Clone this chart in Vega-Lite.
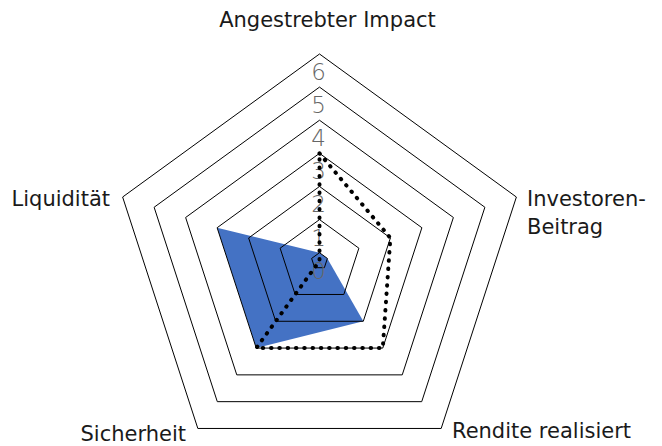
{
  "$schema": "https://vega.github.io/schema/vega-lite/v6.json",
  "width": 662,
  "height": 446,
  "autosize": {"type": "fit", "contains": "padding"},
  "padding": 0,
  "background": "white",
  "config": {"view": {"stroke": null}},
  "datasets": {
    "series": [
      {"axis": "Angestrebter Impact", "series": "A", "value": 0},
      {"axis": "Investoren-Beitrag", "series": "A", "value": 0},
      {"axis": "Rendite realisiert", "series": "A", "value": 2},
      {"axis": "Sicherheit", "series": "A", "value": 3},
      {"axis": "Liquidität", "series": "A", "value": 3},
      {"axis": "Angestrebter Impact", "series": "B", "value": 3},
      {"axis": "Investoren-Beitrag", "series": "B", "value": 2},
      {"axis": "Rendite realisiert", "series": "B", "value": 3},
      {"axis": "Sicherheit", "series": "B", "value": 3},
      {"axis": "Liquidität", "series": "B", "value": -0.25}
    ],
    "grid": [
      {"value": 0, "axis": ["Angestrebter Impact", "Investoren-Beitrag", "Rendite realisiert", "Sicherheit", "Liquidität"]},
      {"value": 1, "axis": ["Angestrebter Impact", "Investoren-Beitrag", "Rendite realisiert", "Sicherheit", "Liquidität"]},
      {"value": 2, "axis": ["Angestrebter Impact", "Investoren-Beitrag", "Rendite realisiert", "Sicherheit", "Liquidität"]},
      {"value": 3, "axis": ["Angestrebter Impact", "Investoren-Beitrag", "Rendite realisiert", "Sicherheit", "Liquidität"]},
      {"value": 4, "axis": ["Angestrebter Impact", "Investoren-Beitrag", "Rendite realisiert", "Sicherheit", "Liquidität"]},
      {"value": 5, "axis": ["Angestrebter Impact", "Investoren-Beitrag", "Rendite realisiert", "Sicherheit", "Liquidität"]},
      {"value": 6, "axis": ["Angestrebter Impact", "Investoren-Beitrag", "Rendite realisiert", "Sicherheit", "Liquidität"]}
    ],
    "ticks": [
      {"axis": "Angestrebter Impact", "value": 0},
      {"axis": "Angestrebter Impact", "value": 1},
      {"axis": "Angestrebter Impact", "value": 2},
      {"axis": "Angestrebter Impact", "value": 3},
      {"axis": "Angestrebter Impact", "value": 4},
      {"axis": "Angestrebter Impact", "value": 5},
      {"axis": "Angestrebter Impact", "value": 6}
    ],
    "labels": [
      {"axis": "Angestrebter Impact", "label": "Angestrebter Impact", "value": 6},
      {"axis": "Investoren-Beitrag", "label": "Investoren-\nBeitrag", "value": 6},
      {"axis": "Rendite realisiert", "label": "Rendite realisiert", "value": 6},
      {"axis": "Sicherheit", "label": "Sicherheit", "value": 6},
      {"axis": "Liquidität", "label": "Liquidität", "value": 6}
    ]
  },
  "encoding": {
    "x": {"field": "x", "type": "quantitative", "scale": {"domain": [-9.647, 10.341], "nice": false, "zero": false}, "axis": null},
    "y": {"field": "y", "type": "quantitative", "scale": {"domain": [-5.586, 7.880], "nice": false, "zero": false}, "axis": null}
  },
  "layer": [
    {
      "data": {"name": "series"},
      "transform": [
        {"filter": "datum.series == 'A'"},
        {"calculate": "indexof(['Angestrebter Impact','Investoren-Beitrag','Rendite realisiert','Sicherheit','Liquidität'], datum.axis)", "as": "idx"},
        {"calculate": "(datum.value + 0.25) * sin(datum.idx * 2 * PI / 5)", "as": "x"},
        {"calculate": "(datum.value + 0.25) * cos(datum.idx * 2 * PI / 5)", "as": "y"}
      ],
      "mark": {"type": "line", "interpolate": "linear-closed", "fill": "#4472C4", "stroke": null, "filled": true},
      "encoding": {"order": {"field": "idx", "type": "quantitative"}}
    },
    {
      "data": {"name": "grid"},
      "transform": [
        {"flatten": ["axis"]},
        {"calculate": "indexof(['Angestrebter Impact','Investoren-Beitrag','Rendite realisiert','Sicherheit','Liquidität'], datum.axis)", "as": "idx"},
        {"calculate": "(datum.value + 0.25) * sin(datum.idx * 2 * PI / 5)", "as": "x"},
        {"calculate": "(datum.value + 0.25) * cos(datum.idx * 2 * PI / 5)", "as": "y"}
      ],
      "mark": {"type": "line", "interpolate": "linear-closed", "stroke": "#000000", "strokeWidth": 1},
      "encoding": {
        "detail": {"field": "value", "type": "nominal"},
        "order": {"field": "idx", "type": "quantitative"}
      }
    },
    {
      "data": {"name": "ticks"},
      "transform": [
        {"calculate": "(datum.value + 0.25) * 0", "as": "x"},
        {"calculate": "(datum.value + 0.25)", "as": "y"}
      ],
      "mark": {"type": "text", "font": "DejaVu Sans", "fontWeight": 200, "fontSize": 23, "color": "#666666", "align": "center", "baseline": "middle", "dy": 19, "dx": -1},
      "encoding": {"text": {"field": "value", "type": "quantitative"}}
    },
    {
      "data": {"name": "series"},
      "transform": [
        {"filter": "datum.series == 'B'"},
        {"calculate": "indexof(['Angestrebter Impact','Investoren-Beitrag','Rendite realisiert','Sicherheit','Liquidität'], datum.axis)", "as": "idx"},
        {"calculate": "(datum.value + 0.25) * sin(datum.idx * 2 * PI / 5)", "as": "x"},
        {"calculate": "(datum.value + 0.25) * cos(datum.idx * 2 * PI / 5)", "as": "y"}
      ],
      "mark": {"type": "line", "interpolate": "linear-closed", "stroke": "#000000", "strokeWidth": 4, "strokeDash": [0.5, 7.8], "strokeCap": "round"},
      "encoding": {"order": {"field": "idx", "type": "quantitative"}}
    },
    {
      "data": {"name": "labels"},
      "transform": [
        {"filter": "datum.axis == 'Angestrebter Impact'"},
        {"calculate": "0", "as": "x"},
        {"calculate": "datum.value + 0.25", "as": "y"}
      ],
      "mark": {"type": "text", "font": "DejaVu Sans", "fontSize": 21, "color": "#1a1a1a", "align": "center", "baseline": "middle", "dx": 8, "dy": -33},
      "encoding": {"text": {"field": "label"}}
    },
    {
      "data": {"name": "labels"},
      "transform": [
        {"filter": "datum.axis == 'Investoren-Beitrag'"},
        {"calculate": "(datum.value + 0.25) * sin(2 * PI / 5)", "as": "x"},
        {"calculate": "(datum.value + 0.25) * cos(2 * PI / 5)", "as": "y"}
      ],
      "mark": {"type": "text", "font": "DejaVu Sans", "fontSize": 21, "color": "#1a1a1a", "align": "left", "baseline": "middle", "lineBreak": "\n", "lineHeight": 28, "dx": 10.6, "dy": 3},
      "encoding": {"text": {"field": "label"}}
    },
    {
      "data": {"name": "labels"},
      "transform": [
        {"filter": "datum.axis == 'Rendite realisiert'"},
        {"calculate": "(datum.value + 0.25) * sin(4 * PI / 5)", "as": "x"},
        {"calculate": "(datum.value + 0.25) * cos(4 * PI / 5)", "as": "y"}
      ],
      "mark": {"type": "text", "font": "DejaVu Sans", "fontSize": 21, "color": "#1a1a1a", "align": "left", "baseline": "middle", "dx": 10.8, "dy": 3.5},
      "encoding": {"text": {"field": "label"}}
    },
    {
      "data": {"name": "labels"},
      "transform": [
        {"filter": "datum.axis == 'Sicherheit'"},
        {"calculate": "(datum.value + 0.25) * sin(6 * PI / 5)", "as": "x"},
        {"calculate": "(datum.value + 0.25) * cos(6 * PI / 5)", "as": "y"}
      ],
      "mark": {"type": "text", "font": "DejaVu Sans", "fontSize": 21, "color": "#1a1a1a", "align": "right", "baseline": "middle", "dx": -11.8, "dy": 6.5},
      "encoding": {"text": {"field": "label"}}
    },
    {
      "data": {"name": "labels"},
      "transform": [
        {"filter": "datum.axis == 'Liquidität'"},
        {"calculate": "(datum.value + 0.25) * sin(8 * PI / 5)", "as": "x"},
        {"calculate": "(datum.value + 0.25) * cos(8 * PI / 5)", "as": "y"}
      ],
      "mark": {"type": "text", "font": "DejaVu Sans", "fontSize": 21, "color": "#1a1a1a", "align": "right", "baseline": "middle", "dx": -12.6, "dy": 3},
      "encoding": {"text": {"field": "label"}}
    }
  ]
}
